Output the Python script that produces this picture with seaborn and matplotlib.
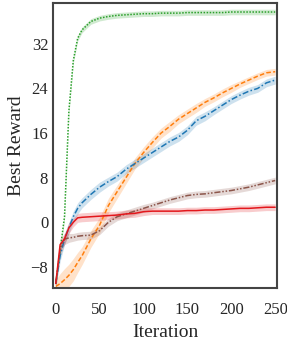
import numpy as np
import pandas as pd
import seaborn as sns
from matplotlib import pyplot as plt

iters = [0, 5, 10, 15, 20, 25, 30, 40, 50, 60, 70, 80, 90, 100, 110, 120, 130,
         140, 150, 160, 170, 180, 190, 200, 210, 220, 230, 240, 250]

green = [-11, -5, 1, 20, 29, 33, 34.5, 36, 36.6, 36.9, 37.1, 37.2, 37.3, 37.4, 37.4, 37.5, 37.5,
         37.5, 37.6, 37.6, 37.6, 37.6, 37.6, 37.7, 37.7, 37.7, 37.7, 37.7, 37.7]
orange = [-11.5, -11, -10.3, -9.5, -8.5, -7.2, -6, -3, -0.5, 3, 5.5, 8, 10.5, 12.5, 14.3, 16, 17.2,
          18.5, 19.5, 20.5, 21.5, 22.3, 23.2, 24, 24.8, 25.5, 26.2, 26.8, 27]
blue = [-11, -6, -3, -1, 1, 2.5, 3.5, 5, 6.3, 7.3, 8.2, 9.5, 10.5, 11.5, 12.5, 13.5, 14.5,
        15.3, 16.5, 18.2, 19, 20, 21, 22, 22.8, 23.5, 24, 25, 25.5]
red = [-11, -4, -3, -1, 0, 0.8, 0.9, 1.0, 1.1, 1.2, 1.3, 1.5, 1.6, 1.9, 2.0, 2.0, 2.0,
       2.0, 2.1, 2.1, 2.2, 2.2, 2.3, 2.4, 2.5, 2.5, 2.6, 2.7, 2.7]
brown = [-11, -5, -3, -2.8, -2.7, -2.5, -2.4, -2.3, -1.5, 0, 1, 1.5, 2, 2.5, 3, 3.5, 4,
         4.4, 4.8, 5, 5.1, 5.3, 5.5, 5.7, 6, 6.3, 6.7, 7.1, 7.5]

# band half-widths
green_sd = [0.5] * 29
orange_sd = [1.2, 1.8, 2, 2, 2, 1.8, 1.6, 1.5, 1.4, 1.3, 1.2, 1.1, 1, 1, 1, 0.9, 0.9,
             0.8, 0.8, 0.8, 0.7, 0.7, 0.7, 0.7, 0.6, 0.6, 0.6, 0.6, 0.6]
blue_sd = [0.8, 1, 1, 1, 1, 1, 0.9, 0.9, 0.9, 0.8, 0.8, 0.8, 0.8, 0.8, 0.8, 0.8, 0.8,
           0.8, 0.8, 0.8, 0.8, 0.7, 0.7, 0.7, 0.7, 0.7, 0.7, 0.7, 0.7]
red_sd = [0.8, 1, 1, 1, 0.8, 0.8, 0.8, 0.8, 0.8, 0.7, 0.7, 0.7, 0.7, 0.7, 0.6, 0.6, 0.6,
          0.6, 0.6, 0.6, 0.6, 0.6, 0.6, 0.6, 0.6, 0.6, 0.6, 0.6, 0.6]
brown_sd = [0.8, 1, 1, 0.8, 0.7, 0.7, 0.7, 0.7, 0.7, 0.7, 0.7, 0.7, 0.7, 0.7, 0.6, 0.6, 0.6,
            0.6, 0.6, 0.6, 0.6, 0.6, 0.6, 0.6, 0.6, 0.6, 0.6, 0.6, 0.6]

sns.set_style('white')
plt.rcParams['font.family'] = ['Liberation Serif', 'DejaVu Serif']

fig = plt.figure(figsize=(2.87, 3.43), dpi=100)
ax = fig.add_axes([0.185, 0.160, 0.780, 0.831])

series = [
    (green, green_sd, '#2ca02c', (0, (1, 1))),
    (orange, orange_sd, '#ff7f0e', (0, (3, 1.5))),
    (blue, blue_sd, '#1f77b4', (0, (4, 1.5, 1, 1.5))),
    (brown, brown_sd, '#8c564b', (0, (4, 1.2, 1, 1.2, 1, 1.2))),
    (red, red_sd, '#e3171c', '-'),
]
for vals, sd, color, ls in series:
    df = pd.DataFrame({'it': iters, 'v': vals})
    sns.lineplot(data=df, x='it', y='v', color=color, linewidth=1.1, linestyle=ls, ax=ax)
    v = np.array(vals)
    s = np.array(sd)
    ax.fill_between(iters, v - s, v + s, color=color, alpha=0.22, linewidth=0)

ax.set_xlim(-3, 252)
ax.set_ylim(-11.8, 39.3)
ax.set_xticks([0, 50, 100, 150, 200, 250])
ax.set_yticks([-8, 0, 8, 16, 24, 32])
ax.set_yticklabels(['\u22128', '0', '8', '16', '24', '32'])
ax.tick_params(labelsize=12, length=0)
ax.tick_params(axis='x', pad=10)
ax.tick_params(axis='y', pad=3.5)
ax.set_xlabel('Iteration', fontsize=14, labelpad=4)
ax.set_ylabel('Best Reward', fontsize=14, labelpad=4)
for sp in ax.spines.values():
    sp.set_color('#444444')
    sp.set_linewidth(1.5)

plt.savefig('out.png', dpi=100)
